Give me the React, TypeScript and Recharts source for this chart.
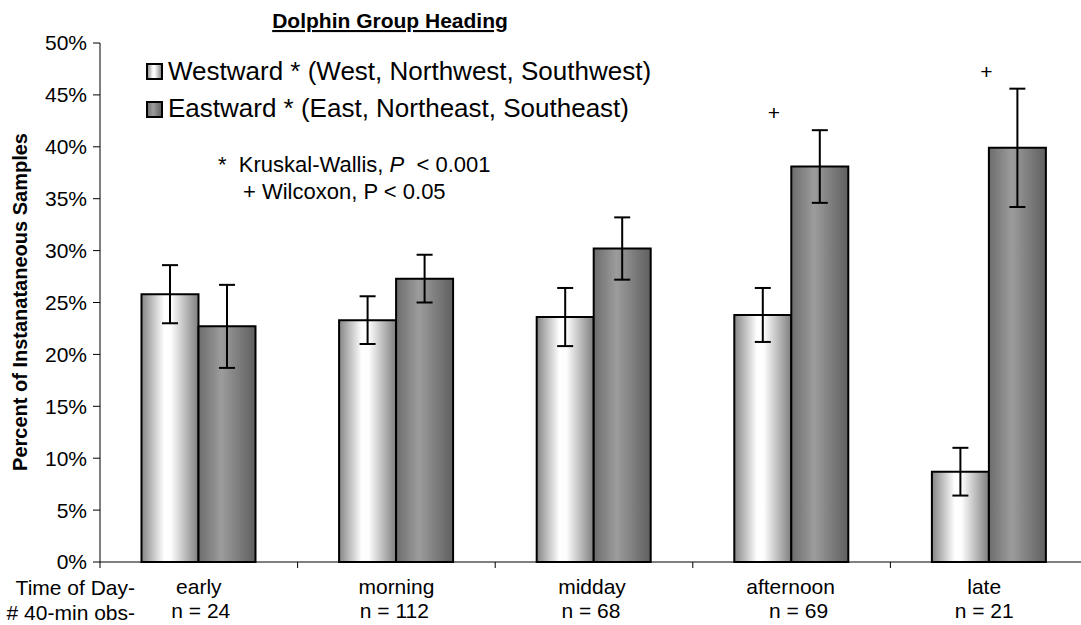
import React from 'react';
import { BarChart, Bar, XAxis, YAxis, ErrorBar, LabelList, Legend } from 'recharts';

const FONT = '"Liberation Sans", Arial, Helvetica, sans-serif';

const categories = ['early', 'morning', 'midday', 'afternoon', 'late'];
const sampleSizes = ['n = 24', 'n = 112', 'n = 68', 'n = 69', 'n = 21'];
const westward = [25.8, 23.3, 23.6, 23.8, 8.7];
const westwardErr = [2.8, 2.3, 2.8, 2.6, 2.3];
const eastward = [22.7, 27.3, 30.2, 38.1, 39.9];
const eastwardErr = [4.0, 2.3, 3.0, 3.5, 5.7];
const wilcoxonMark = ['', '', '', '+', '+'];
const yTicks = [0, 5, 10, 15, 20, 25, 30, 35, 40, 45, 50];
const seriesNames = ['Westward * (West, Northwest, Southwest)', 'Eastward * (East, Northeast, Southeast)'];
const seriesFills = ['url(#gradWest)', 'url(#gradEast)'];

// hand-placed label nudges (layout only)
const nameShift = [0, 0, -2, -1, -5];
const nLabelShift = [2, -2, -3, 7, -5];
const plusShift = [0, 0, 0, -46, -31];

const data = categories.map((name, i) => ({
  name,
  west: westward[i],
  westErr: westwardErr[i],
  east: eastward[i],
  eastErr: eastwardErr[i],
  mark: wilcoxonMark[i],
}));

function XTick(props: any) {
  const { x, y, payload } = props;
  const i = categories.indexOf(payload.value);
  const half =
    payload && typeof payload.offset === 'number' && payload.offset > 0
      ? payload.offset
      : Number(props.width) / categories.length / 2;
  const isLast = i === categories.length - 1;
  return (
    <g>
      <line x1={x - half} y1={y} x2={x - half} y2={y + 6} stroke="#000" strokeWidth={1} />
      {isLast && <line x1={x + half} y1={y} x2={x + half} y2={y + 6} stroke="#000" strokeWidth={1} />}
      <text x={x + nameShift[i]} y={y + 32} textAnchor="middle" fontSize={21} fontFamily={FONT} fill="#000">
        {payload.value}
      </text>
      <text x={x + nLabelShift[i]} y={y + 56} textAnchor="middle" fontSize={21} fontFamily={FONT} fill="#000">
        {sampleSizes[i]}
      </text>
    </g>
  );
}

function LegendContent() {
  return (
    <svg width={700} height={130} style={{ display: 'block' }}>
      {seriesNames.map((n, i) => (
        <g key={n}>
          <rect x={147} y={64 + i * 38} width={15} height={15} fill={seriesFills[i]} stroke="#000" strokeWidth={2} />
          <text x={168} y={80 + i * 37} fontSize={26} fontFamily={FONT} fill="#000">
            {n}
          </text>
        </g>
      ))}
    </svg>
  );
}

function PlusLabel(p: any) {
  const i = p.index;
  if (i == null || !wilcoxonMark[i]) return null;
  const h = Number(p.height);
  const pxPerUnit = h / eastward[i];
  const errTop = Number(p.y) - eastwardErr[i] * pxPerUnit;
  return (
    <text x={Number(p.x) + Number(p.width) / 2 + plusShift[i]} y={errTop - 10} textAnchor="middle" fontSize={21} fontFamily={FONT} fill="#000">
      {wilcoxonMark[i]}
    </text>
  );
}

export default function App() {
  return (
    <div style={{ position: 'absolute', left: 0, top: 0, width: 1081, height: 625, overflow: 'hidden', background: '#fff' }}>
      <BarChart
        width={1088}
        height={625}
        data={data}
        margin={{ top: 43, right: 0, bottom: 0, left: 0 }}
        barCategoryGap="21%"
        barGap={0}
      >
        <defs>
          <linearGradient id="gradWest" x1="0" y1="0" x2="1" y2="0">
            <stop offset="0" stopColor="#858585" />
            <stop offset="0.4" stopColor="#ffffff" />
            <stop offset="0.52" stopColor="#fdfdfd" />
            <stop offset="1" stopColor="#7f7f7f" />
          </linearGradient>
          <linearGradient id="gradEast" x1="0" y1="0" x2="1" y2="0">
            <stop offset="0" stopColor="#6c6c6c" />
            <stop offset="0.4" stopColor="#9c9c9c" />
            <stop offset="1" stopColor="#5f5f5f" />
          </linearGradient>
        </defs>
        <XAxis
          dataKey="name"
          height={63}
          tickLine={false}
          tickSize={0}
          tickMargin={0}
          axisLine={{ stroke: '#000' }}
          tick={<XTick />}
          interval={0}
        />
        <YAxis
          width={100}
          domain={[0, 50]}
          ticks={yTicks}
          interval={0}
          tickFormatter={(v: number) => `${v}%`}
          tick={{ fontSize: 21, fill: '#000', fontFamily: FONT }}
          tickSize={7}
          tickMargin={6}
          axisLine={{ stroke: '#000' }}
          tickLine={{ stroke: '#000' }}
        />
        <Legend
          layout="horizontal"
          verticalAlign="middle"
          align="center"
          content={<LegendContent />}
          wrapperStyle={{ position: 'absolute', left: 0, top: 0, width: 700, height: 130 }}
        />
        <Bar dataKey="west" name={seriesNames[0]} fill="url(#gradWest)" stroke="#000" strokeWidth={2} isAnimationActive={false}>
          <ErrorBar dataKey="westErr" width={8} stroke="#000" strokeWidth={2} />
        </Bar>
        <Bar dataKey="east" name={seriesNames[1]} fill="url(#gradEast)" stroke="#000" strokeWidth={2} isAnimationActive={false}>
          <ErrorBar dataKey="eastErr" width={8} stroke="#000" strokeWidth={2} />
          <LabelList dataKey="mark" content={<PlusLabel />} />
        </Bar>
        <text x={390} y={28} textAnchor="middle" fontSize={21} fontWeight="bold" fontFamily={FONT} textDecoration="underline" fill="#000">
          Dolphin Group Heading
        </text>
        <text x={218} y={172} fontSize={22} fontFamily={FONT} fill="#000" style={{ whiteSpace: 'pre' }}>
          {'*  Kruskal-Wallis, '}
          <tspan fontStyle="italic">P</tspan>
          {'  < 0.001'}
        </text>
        <text x={243} y={199} fontSize={22} fontFamily={FONT} fill="#000" style={{ whiteSpace: 'pre' }}>
          {'+ Wilcoxon, P < 0.05'}
        </text>
        <text
          transform="translate(27, 302) rotate(-90)"
          textAnchor="middle"
          fontSize={20}
          fontWeight="bold"
          fontFamily={FONT}
          fill="#000"
        >
          Percent of Instanataneous Samples
        </text>
        <text x={135} y={595} textAnchor="end" fontSize={21} fontFamily={FONT} fill="#000">
          Time of Day-
        </text>
        <text x={135} y={620} textAnchor="end" fontSize={21} fontFamily={FONT} fill="#000">
          # 40-min obs-
        </text>
      </BarChart>
    </div>
  );
}
